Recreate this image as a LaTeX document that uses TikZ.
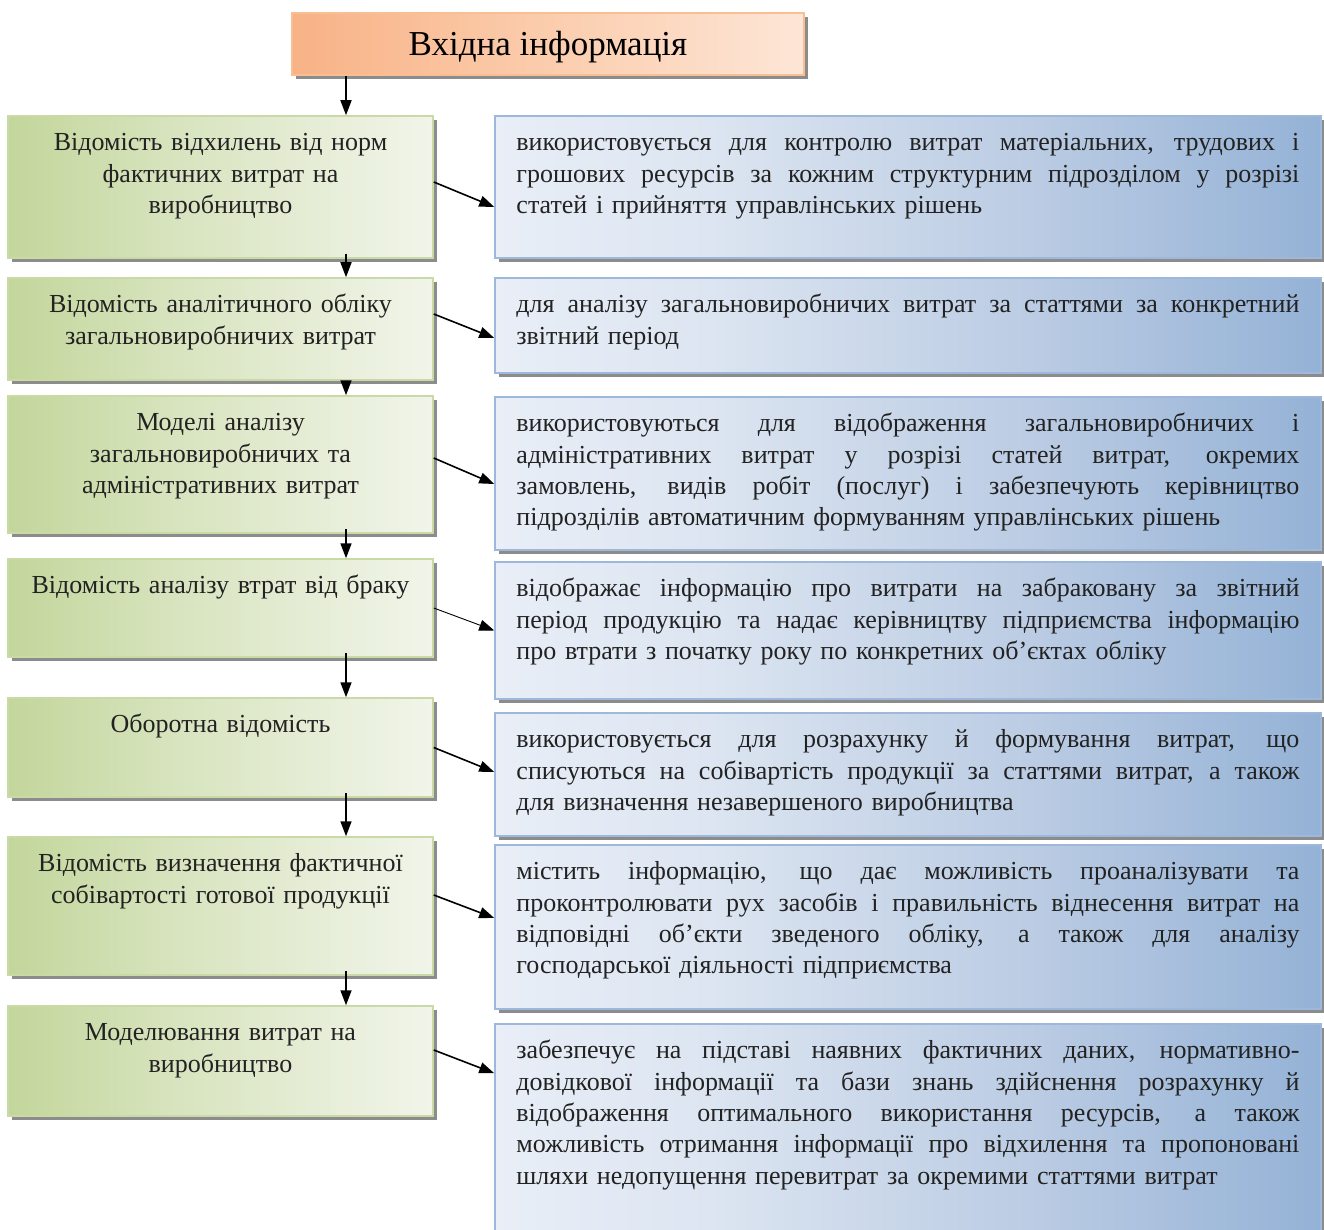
\documentclass[tikz,border=0pt]{standalone}
\usepackage{fontspec}
\setmainfont{Liberation Serif}
\usetikzlibrary{arrows.meta,shadows}

\definecolor{txt}{HTML}{222222}
\definecolor{grA}{HTML}{C3D69B}
\definecolor{grB}{HTML}{D8E4BF}
\definecolor{grC}{HTML}{F1F5EA}
\definecolor{grLine}{HTML}{C9DAA6}
\definecolor{blA}{HTML}{E9EEF7}
\definecolor{blB}{HTML}{DCE5F1}
\definecolor{blC}{HTML}{BACBE3}
\definecolor{blD}{HTML}{94B2D6}
\definecolor{blLine}{HTML}{9DB8DA}
\definecolor{orA}{HTML}{F8B286}
\definecolor{orB}{HTML}{FBCDAD}
\definecolor{orC}{HTML}{FDE6D7}
\definecolor{orLine}{HTML}{F9BF94}

% left-to-right fades; the path is mapped onto 25bp..75bp
\pgfdeclarehorizontalshading{greenfade}{100bp}{color(0bp)=(grA); color(25bp)=(grA); color(45bp)=(grB); color(75bp)=(grC); color(100bp)=(grC)}
\pgfdeclarehorizontalshading{bluefade}{100bp}{color(0bp)=(blA); color(25bp)=(blA); color(38bp)=(blB); color(58bp)=(blC); color(75bp)=(blD); color(100bp)=(blD)}
\pgfdeclarehorizontalshading{orangefade}{100bp}{color(0bp)=(orA); color(25bp)=(orA); color(50bp)=(orB); color(75bp)=(orC); color(100bp)=(orC)}

% one fully justified line of a description (interword glue made stretchable)
\newcommand{\jline}[1]{\makebox[783pt][s]{\spaceskip=0.25em plus 1.5em minus 0.05em #1}\par}

\begin{document}
\begin{tikzpicture}[x=1pt,y=-1pt,
  box/.style={rectangle, inner sep=0pt, line width=1.5pt,
    general shadow={fill=black!45, shadow xshift=4pt, shadow yshift=-4pt}},
  titlebox/.style={box, shading=orangefade, draw=orLine,
    minimum width=512pt, minimum height=62pt},
  greenbox/.style={box, shading=greenfade, draw=grLine, minimum width=425pt},
  bluebox/.style={box, shading=bluefade, draw=blLine, minimum width=826pt},
  ltext/.style={anchor=north, inner sep=0pt, text width=420pt, align=center,
    text=txt, font=\fontsize{26}{31.3}\selectfont, execute at begin node={\strut}},
  rtext/.style={anchor=north west, inner sep=0pt, text width=783pt, align=left,
    text=txt, font=\fontsize{26}{31.3}\selectfont, execute at begin node={\strut}},
  arr/.style={-{Triangle[length=15pt,width=11pt]}, line width=1.6pt, black},
]
\useasboundingbox (0,0) rectangle (1324,1230);
\clip (0,0) rectangle (1324,1230);

\coordinate (spine) at (346,0);

% heading
\node[titlebox] (title) at (548,44) {};
\node[text=black, font=\fontsize{35}{40}\selectfont] (titletext) at ([yshift=-3.5pt]title.center) {Вхідна інформація};

% documents column
\node[greenbox, minimum height=142pt] (g1) at (220.5,187) {};
\node[greenbox, minimum height=102pt] (g2) at (220.5,329) {};
\node[greenbox, minimum height=137pt] (g3) at (220.5,464.5) {};
\node[greenbox, minimum height=98pt]  (g4) at (220.5,608) {};
\node[greenbox, minimum height=99pt]  (g5) at (220.5,747.5) {};
\node[greenbox, minimum height=138pt] (g6) at (220.5,906) {};
\node[greenbox, minimum height=110pt] (g7) at (220.5,1061) {};

\node[ltext] (l1) at ([yshift=-13.5pt]g1.north) {Відомість відхилень від норм\\фактичних витрат на\\виробництво};
\node[ltext] (l2) at ([yshift=-13.5pt]g2.north) {Відомість аналітичного обліку\\загальновиробничих витрат};
\node[ltext] (l3) at ([yshift=-13.5pt]g3.north) {Моделі аналізу\\загальновиробничих та\\адміністративних витрат};
\node[ltext] (l4) at ([yshift=-13.5pt]g4.north) {Відомість аналізу втрат від браку};
\node[ltext] (l5) at ([yshift=-13.5pt]g5.north) {Оборотна відомість};
\node[ltext] (l6) at ([yshift=-13.5pt]g6.north) {Відомість визначення фактичної\\собівартості готової продукції};
\node[ltext] (l7) at ([yshift=-13.5pt]g7.north) {Моделювання витрат на\\виробництво};

% descriptions column
\node[bluebox, minimum height=142pt] (r1) at (908,187) {};
\node[bluebox, minimum height=95pt]  (r2) at (908,325.5) {};
\node[bluebox, minimum height=153pt] (r3) at (908,473.5) {};
\node[bluebox, minimum height=137pt] (r4) at (908,630.5) {};
\node[bluebox, minimum height=123pt] (r5) at (908,774.5) {};
\node[bluebox, minimum height=164pt] (r6) at (908,927) {};
\node[bluebox, minimum height=216pt] (r7) at (908,1132) {};

\node[rtext] (d1) at ([xshift=22pt,yshift=-13.5pt]r1.north west) {%
\jline{використовується для контролю витрат матеріальних, трудових і}%
\jline{грошових ресурсів за кожним структурним підрозділом у розрізі}%
статей і прийняття управлінських рішень};
\node[rtext] (d2) at ([xshift=22pt,yshift=-13.5pt]r2.north west) {%
\jline{для аналізу загальновиробничих витрат за статтями за конкретний}%
звітний період};
\node[rtext] (d3) at ([xshift=22pt,yshift=-13.5pt]r3.north west) {%
\jline{використовуються для відображення загальновиробничих і}%
\jline{адміністративних витрат у розрізі статей витрат, окремих}%
\jline{замовлень, видів робіт (послуг) і забезпечують керівництво}%
підрозділів автоматичним формуванням управлінських рішень};
\node[rtext] (d4) at ([xshift=22pt,yshift=-13.5pt]r4.north west) {%
\jline{відображає інформацію про витрати на забраковану за звітний}%
\jline{період продукцію та надає керівництву підприємства інформацію}%
про втрати з початку року по конкретних об’єктах обліку};
\node[rtext] (d5) at ([xshift=22pt,yshift=-13.5pt]r5.north west) {%
\jline{використовується для розрахунку й формування витрат, що}%
\jline{списуються на собівартість продукції за статтями витрат, а також}%
для визначення незавершеного виробництва};
\node[rtext] (d6) at ([xshift=22pt,yshift=-13.5pt]r6.north west) {%
\jline{містить інформацію, що дає можливість проаналізувати та}%
\jline{проконтролювати рух засобів і правильність віднесення витрат на}%
\jline{відповідні об’єкти зведеного обліку, а також для аналізу}%
господарської діяльності підприємства};
\node[rtext] (d7) at ([xshift=22pt,yshift=-13.5pt]r7.north west) {%
\jline{забезпечує на підставі наявних фактичних даних, нормативно-}%
\jline{довідкової інформації та бази знань здійснення розрахунку й}%
\jline{відображення оптимального використання ресурсів, а також}%
\jline{можливість отримання інформації про відхилення та пропоновані}%
шляхи недопущення перевитрат за окремими статтями витрат};

% vertical chain
\draw[arr] (title.south -| spine) -- (g1.north -| spine);
\draw[arr, shorten <=-5pt] (g1.south -| spine) -- (g2.north -| spine);
\draw[arr, shorten <=-5pt] (g2.south -| spine) -- (g3.north -| spine);
\draw[arr, shorten <=-5pt] (g3.south -| spine) -- (g4.north -| spine);
\draw[arr, shorten <=-5pt] (g4.south -| spine) -- (g5.north -| spine);
\draw[arr, shorten <=-5pt] (g5.south -| spine) -- (g6.north -| spine);
\draw[arr, shorten <=-5pt] (g6.south -| spine) -- (g7.north -| spine);

% links to descriptions
\draw[arr] ([yshift=5pt]g1.east) -- ([yshift=-20pt]r1.west);
\draw[arr] ([yshift=15pt]g2.east) -- ([yshift=-12.5pt]r2.west);
\draw[arr] ([yshift=6.5pt]g3.east) -- ([yshift=-10.5pt]r3.west);
\draw[arr, line width=0.9pt] (g4.east) -- (r4.west);
\draw[arr] (g5.east) -- ([yshift=2.5pt]r5.west);
\draw[arr] ([yshift=11pt]g6.east) -- ([yshift=9pt]r6.west);
\draw[arr] ([yshift=11pt]g7.east) -- ([yshift=-50pt]r7.north west);
\end{tikzpicture}
\end{document}
